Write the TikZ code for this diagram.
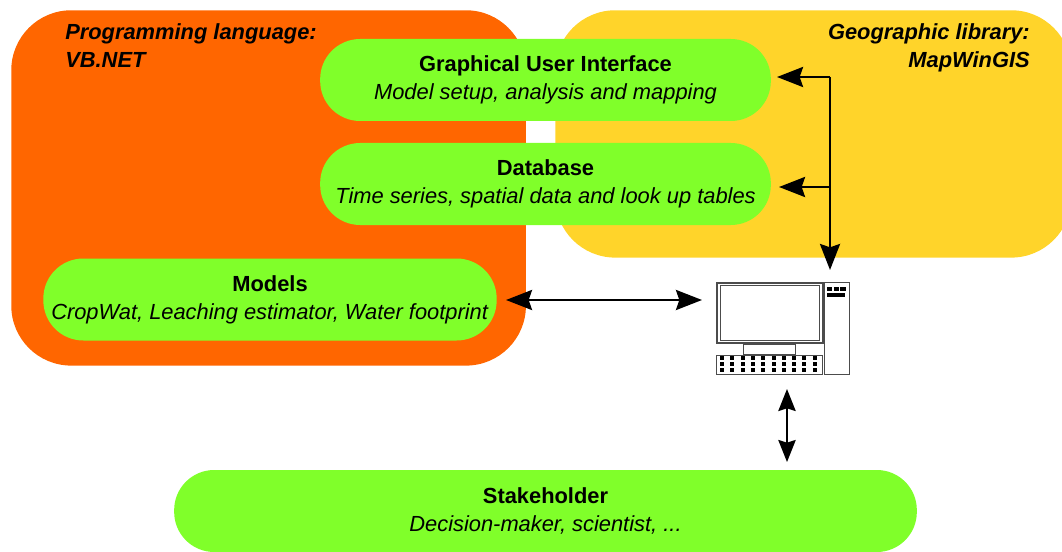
\documentclass[tikz,border=0pt]{standalone}
\usepackage{fontspec}
\setmainfont{Liberation Sans}
\usepackage{xcolor}
\usetikzlibrary{arrows.meta, positioning}
\definecolor{langorange}{HTML}{FF6600}
\definecolor{libyellow}{HTML}{FFD42A}
\definecolor{boxgreen}{HTML}{80FF2A}
\tikzset{
    areanode/.style = {rectangle, rounded corners=45pt, inner sep = 0em, draw=none},
    roundnode/.style = {rectangle, rounded corners=30pt, inner sep = 0em, fill=boxgreen, align=center,
      minimum height=61.5pt, font=\fontsize{16.4pt}{21pt}\selectfont},
    textnode/.style  = {draw=none, fill=none, rectangle, inner sep = 0em, 
      font=\fontsize{16.4pt}{21pt}\selectfont\bfseries\itshape},
    pcnode/.style = {draw=black!70, fill=white, rectangle, inner sep = 0em, line width=0.8pt},
    dotkey/.style = {fill=black, rectangle, inner sep = 0em, minimum width=3pt, minimum height=3pt},
    connect/.style = {black, line width=2pt, {Stealth[length=19.5pt,width=15pt,inset=2.5pt]}-{Stealth[length=19.5pt,width=15pt,inset=2.5pt]}},
    connectthin/.style = {black, line width=1.5pt, {Stealth[length=16.5pt,width=13pt,inset=2pt]}-{Stealth[length=16.5pt,width=13pt,inset=2pt]}},
    oneway/.style = {black, line width=2pt, -{Stealth[length=19.5pt,width=15pt,inset=2.5pt]}}
}
\newcommand{\boxtext}[2]{\textbf{#1}\\\textit{#2}}
\begin{document}
\begin{tikzpicture}[x=0.75pt, y=-0.75pt]
    \useasboundingbox (0,0) rectangle (1062,552);

    % coloured areas
    \node [name=lang, areanode, fill=langorange, minimum width=386pt, minimum height=266.5pt, anchor=north west] at (11,10) {};
    \node [name=lib, areanode, fill=libyellow, minimum width=387pt, minimum height=185.5pt, anchor=north west] at (555,10) {};

    \node [name=langtext, textnode, anchor=north west, align=left] at (65,23) {Programming language:\\VB.NET};
    \node [name=libtext, textnode, anchor=north east, align=right] at (1030,23) {Geographic library:\\MapWinGIS};

    % green boxes
    \node [name=gui, roundnode, minimum width=338pt] at (545.5,80) {\boxtext{Graphical User Interface}{Model setup, analysis and mapping}};
    \node [name=db, roundnode, minimum width=338pt] at (545.5,184) {\boxtext{Database}{Time series, spatial data and look up tables}};
    \node [name=models, roundnode, minimum width=340pt] at (270,299.5) {\boxtext{Models}{CropWat, Leaching estimator, Water footprint}};
    \node [name=stake, roundnode, minimum width=557pt] at (545.5,511) {\boxtext{Stakeholder}{Decision-maker, scientist, ...}};

    % computer
    \node [name=screen, pcnode, line width=1.2pt, minimum width=79.5pt, minimum height=45pt, anchor=north west] at (716,282) {};
    \node [name=glass, pcnode, minimum width=74pt, minimum height=41pt] at (screen.center) {};
    \node [name=stand, pcnode, minimum width=39pt, minimum height=8pt, anchor=north] at (screen.south) {};
    \node [name=keyboard, pcnode, minimum width=79.5pt, minimum height=14.25pt, anchor=north west] at (716,355) {};
    \node [name=tower, pcnode, minimum width=18.75pt, minimum height=69pt, anchor=north west] at (824,282) {};
    \foreach \k in {0,...,2} {
        \node [name=led\k, dotkey, minimum width=4pt, minimum height=3pt] at (829.5+\k*6.8,289) {};
    }
    \node [name=slot, dotkey, minimum width=13.5pt, minimum height=2.6pt] at (836,295) {};
    \foreach \c in {0,...,9} {
        \foreach \r in {0,...,2} {
            \node [name=key\c\r, dotkey] at (722+\c*10.3,358+\r*6) {};
        }
    }

    % arrows
    \coordinate (guijoin) at (830,77);
    \coordinate (dbjoin) at (830,187);
    \coordinate (pctop) at (830,270);
    \coordinate (modelsend) at (506,300);
    \coordinate (pcleft) at (702,300);
    \coordinate (pcbottom) at (787,389);
    \coordinate (stakeend) at (787,462);
    \coordinate (guiend) at (777,77);
    \coordinate (dbend) at (779,187);
    \draw [oneway] (guijoin) -- (guiend);
    \draw [oneway] (dbjoin) -- (dbend);
    \draw [oneway] (guijoin) -- (pctop);
    \draw [connect] (modelsend) -- (pcleft);
    \draw [connectthin] (pcbottom) -- (stakeend);
\end{tikzpicture}
\end{document}
